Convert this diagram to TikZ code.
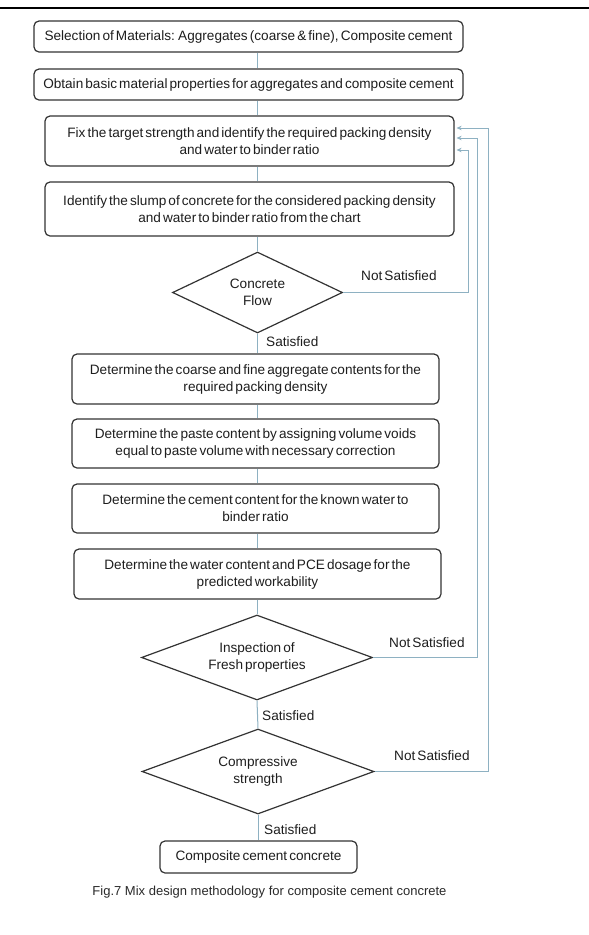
\documentclass[tikz,border=0pt]{standalone}
\usepackage{fontspec}
\setmainfont{Liberation Sans}[WordSpace=0.55]
\newfontfamily\capfont{Liberation Sans}
\usetikzlibrary{shapes.geometric,arrows.meta}

\definecolor{boxline}{HTML}{333333}
\definecolor{linkcol}{HTML}{8EB1C2}
\definecolor{textcol}{HTML}{1E1E1E}
\definecolor{capcol}{HTML}{2A2A2A}

\begin{document}
\begin{tikzpicture}[x=1pt,y=-1pt,
  boxfont/.style={font=\fontsize{13.6}{17}\selectfont},
  stepbox/.style={draw=boxline, line width=1.2pt, rounded corners=5pt, fill=white,
    align=center, inner sep=0pt, text=textcol, boxfont},
  decision/.style={diamond, draw=boxline, line width=1.2pt, fill=white, inner sep=0pt},
  decisiontext/.style={align=center, inner sep=0pt, text=textcol, boxfont},
  flow/.style={draw=linkcol, line width=1pt},
  fb/.style={draw=linkcol, line width=1pt, -{Stealth[length=5pt,width=4.5pt]}},
  lbl/.style={anchor=west, inner sep=0pt, text=textcol, boxfont}]

  % page area and top rule
  \fill[white] (0,0) rectangle (589,935);
  \useasboundingbox (0,0) rectangle (589,935);
  \draw[line width=2.5pt] (0,8) -- (589,8);

  % central axis of the flow
  \coordinate (axis) at (257.5,0);

  % process steps
  \node[stepbox, minimum width=429pt, minimum height=31pt] (b1) at (248.5,36.5)
    {Selection of Materials: Aggregates (coarse \& fine), Composite cement};
  \node[stepbox, minimum width=429pt, minimum height=31pt] (b2) at (248.5,84.5)
    {Obtain basic material properties for aggregates and composite cement};
  \node[stepbox, minimum width=409pt, minimum height=50pt] (b3) at (249.5,141)
    {Fix the target strength and identify the required packing density\\and water to binder ratio};
  \node[stepbox, minimum width=409pt, minimum height=54pt] (b4) at (249.5,209)
    {Identify the slump of concrete for the considered packing density\\and water to binder ratio from the chart};

  \node[decision, minimum width=170pt, minimum height=81pt] (d1) at (257.5,292.5) {};
  \node[decisiontext] (d1t) at (d1) {Concrete\\Flow};

  \node[stepbox, minimum width=367pt, minimum height=50pt] (b5) at (255.5,379)
    {Determine the coarse and fine aggregate contents for the\\required packing density};
  \node[stepbox, minimum width=367pt, minimum height=49pt] (b6) at (255.5,443.5)
    {Determine the paste content by assigning volume voids\\equal to paste volume with necessary correction};
  \node[stepbox, minimum width=367pt, minimum height=49pt] (b7) at (255.5,508.5)
    {Determine the cement content for the known water to\\binder ratio};
  \node[stepbox, minimum width=367pt, minimum height=50pt] (b8) at (257.5,574)
    {Determine the water content and PCE dosage for the\\predicted workability};

  \node[decision, minimum width=231pt, minimum height=85pt] (d2) at (257,657.5) {};
  \node[decisiontext] (d2t) at (d2) {Inspection of\\Fresh properties};
  \node[decision, minimum width=232pt, minimum height=85pt] (d3) at (258,771.5) {};
  \node[decisiontext] (d3t) at (d3) {Compressive\\strength};

  \node[stepbox, minimum width=197pt, minimum height=32pt] (fin) at (258.5,857)
    {Composite cement concrete};

  % main flow
  \draw[flow] (b1.south -| axis) -- (b2.north -| axis);
  \draw[flow] (b2.south -| axis) -- (b3.north -| axis);
  \draw[flow] (b3.south -| axis) -- (b4.north -| axis);
  \draw[flow] (b4.south -| axis) -- (d1.north);
  \draw[flow] (d1.south) -- (b5.north -| d1.south);
  \draw[flow] (b5.south -| axis) -- (b6.north -| axis);
  \draw[flow] (b6.south -| axis) -- (b7.north -| axis);
  \draw[flow] (b7.south -| axis) -- (b8.north -| axis);
  \draw[flow] (b8.south -| d2.north) -- (d2.north);
  \draw[flow] (d2.south) -- (d3.north);
  \draw[flow] (d3.south) -- (fin.north -| d3.south);

  % feedback loops back to the target strength step
  \coordinate (lane1) at (468,0);
  \coordinate (lane2) at (477,0);
  \coordinate (lane3) at (488,0);
  \coordinate (in1) at ([xshift=2pt,yshift=13pt]b3.east);
  \coordinate (in2) at ([xshift=2pt,yshift=3pt]b3.east);
  \coordinate (in3) at ([xshift=2pt,yshift=-9pt]b3.east);
  \draw[fb] (d1.east) -| (lane1 |- in3) -- (in3);
  \draw[fb] (d2.east) -| (lane2 |- in2) -- (in2);
  \draw[fb] (d3.east) -| (lane3 |- in1) -- (in1);

  % branch labels
  \node[lbl] (ns1) at (361,276) {Not Satisfied};
  \node[lbl] (ns2) at (389,643) {Not Satisfied};
  \node[lbl] (ns3) at (394,756) {Not Satisfied};
  \node[lbl] (s1) at (266,342) {Satisfied};
  \node[lbl] (s2) at (262,716) {Satisfied};
  \node[lbl] (s3) at (264,830) {Satisfied};

  % caption
  \node[font=\capfont\fontsize{13}{15}\selectfont, text=capcol, inner sep=0pt] (cap)
    at (269.5,892) {Fig.7 Mix design methodology for composite cement concrete};
\end{tikzpicture}
\end{document}
